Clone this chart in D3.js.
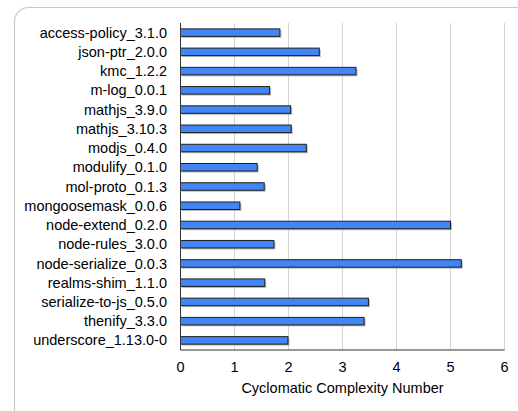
<!DOCTYPE html>
<html>
<head>
<meta charset="utf-8">
<script src="https://cdn.jsdelivr.net/npm/d3@7"></script>
<style>
  html, body { margin: 0; padding: 0; background: #fff; }
  svg { display: block; font-family: "Liberation Sans", Arial, sans-serif; }
</style>
</head>
<body>
<svg id="chart" width="518" height="411"></svg>
<script>
// Package names and their cyclomatic complexity numbers
const packages = [
  "access-policy_3.1.0", "json-ptr_2.0.0", "kmc_1.2.2", "m-log_0.0.1",
  "mathjs_3.9.0", "mathjs_3.10.3", "modjs_0.4.0", "modulify_0.1.0",
  "mol-proto_0.1.3", "mongoosemask_0.0.6", "node-extend_0.2.0",
  "node-rules_3.0.0", "node-serialize_0.0.3", "realms-shim_1.1.0",
  "serialize-to-js_0.5.0", "thenify_3.3.0", "underscore_1.13.0-0"
];
const complexity = [
  1.84, 2.57, 3.25, 1.65, 2.04, 2.05, 2.33, 1.42,
  1.55, 1.10, 5.00, 1.73, 5.20, 1.56, 3.48, 3.40, 1.99
];
const xTicks = [0, 1, 2, 3, 4, 5, 6];
const xTitle = "Cyclomatic Complexity Number";

const svg = d3.select("#chart");
const margin = { left: 180.5, right: 14, top: 23, bottom: 61 };
const W = 518, H = 411;

// Rounded frame around the chart area
svg.append("rect")
  .attr("x", 14.5).attr("y", 7.5)
  .attr("width", 530).attr("height", 430)
  .attr("rx", 14).attr("ry", 14)
  .attr("fill", "none").attr("stroke", "#c8c8c8").attr("stroke-width", 1.2);

const x = d3.scaleLinear().domain([0, 6]).range([margin.left, 504.5]);
const y = d3.scaleBand().domain(packages).range([margin.top, H - margin.bottom]).paddingInner(0.61).paddingOuter(0.305);

// Vertical gridlines
svg.append("g").selectAll("line").data(xTicks.slice(1)).join("line")
  .attr("x1", d => x(d)).attr("x2", d => x(d))
  .attr("y1", margin.top).attr("y2", H - margin.bottom)
  .attr("stroke", "#d4d4d4").attr("stroke-width", 1);

const data = packages.map((p, i) => ({ name: p, value: complexity[i] }));

// Soft drop shadow under each bar
svg.append("g").selectAll("rect").data(data).join("rect")
  .attr("x", x(0) + 1.5)
  .attr("y", d => y(d.name) + 1.5)
  .attr("width", d => x(d.value) - x(0))
  .attr("height", y.bandwidth())
  .attr("fill", "#9a9a9a").attr("opacity", 0.7);

// Bars
svg.append("g").selectAll("rect").data(data).join("rect")
  .attr("x", x(0))
  .attr("y", d => y(d.name))
  .attr("width", d => x(d.value) - x(0))
  .attr("height", y.bandwidth())
  .attr("fill", "#4285f4").attr("stroke", "#1f1f1f").attr("stroke-width", 1);

// Axis lines
svg.append("line")
  .attr("x1", x(0)).attr("x2", x(0))
  .attr("y1", margin.top).attr("y2", H - margin.bottom)
  .attr("stroke", "#333").attr("stroke-width", 1);
svg.append("line")
  .attr("x1", x(0)).attr("x2", x(6))
  .attr("y1", H - margin.bottom).attr("y2", H - margin.bottom)
  .attr("stroke", "#333").attr("stroke-width", 1);

// Category labels
svg.append("g").selectAll("text").data(packages).join("text")
  .attr("x", 167)
  .attr("y", d => y(d) + y.bandwidth() / 2)
  .attr("dy", "0.35em")
  .attr("text-anchor", "end")
  .attr("font-size", 14.5)
  .attr("fill", "#000")
  .text(d => d);

// X tick labels
svg.append("g").selectAll("text").data(xTicks).join("text")
  .attr("x", d => x(d))
  .attr("y", 367)
  .attr("dy", "0.35em")
  .attr("text-anchor", "middle")
  .attr("font-size", 14.5)
  .attr("fill", "#000")
  .text(d => d);

// X axis title
svg.append("text")
  .attr("x", x(3))
  .attr("y", 388)
  .attr("dy", "0.35em")
  .attr("text-anchor", "middle")
  .attr("font-size", 14.5)
  .attr("fill", "#000")
  .text(xTitle);
</script>
</body>
</html>
